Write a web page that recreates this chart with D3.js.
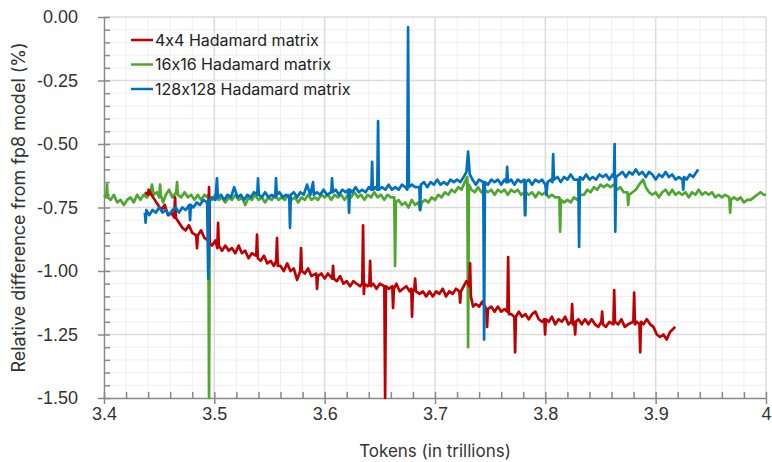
<!DOCTYPE html>
<html>
<head>
<meta charset="utf-8">
<script src="https://cdn.jsdelivr.net/npm/d3@7"></script>
<style>
  body { margin: 0; background: #fff; }
  svg { font-family: Inter, "Noto Sans", sans-serif; font-feature-settings: "calt" 0; }
</style>
</head>
<body>
<script>
// series data: [tokens (trillions), relative difference (%)]
const hadamard4 = [
  [3.437,-0.69],[3.440,-0.70],[3.4405,-0.68],[3.443,-0.70],[3.446,-0.72],[3.449,-0.74],[3.452,-0.76],[3.455,-0.74],
  [3.458,-0.78],[3.461,-0.77],[3.4637,-0.79],[3.4644,-0.71],[3.4651,-0.79],[3.468,-0.81],[3.471,-0.83],[3.474,-0.84],
  [3.477,-0.82],[3.480,-0.85],[3.4836,-0.86],[3.4843,-0.91],[3.4850,-0.86],[3.488,-0.84],[3.491,-0.87],[3.4945,-0.88],
  [3.4952,-0.67],[3.4959,-0.89],[3.498,-0.90],[3.501,-0.88],[3.5027,-0.91],[3.5034,-0.81],[3.5041,-0.90],[3.507,-0.92],
  [3.510,-0.90],[3.513,-0.92],[3.516,-0.91],[3.519,-0.93],[3.522,-0.90],[3.525,-0.93],[3.528,-0.92],[3.531,-0.95],
  [3.534,-0.93],[3.5380,-0.94],[3.5387,-0.857],[3.5394,-0.95],[3.542,-0.96],[3.545,-0.94],[3.548,-0.97],[3.551,-0.96],
  [3.554,-0.98],[3.5561,-0.96],[3.5568,-0.87],[3.5575,-0.98],[3.560,-0.98],[3.563,-1.00],[3.566,-0.97],[3.569,-1.00],
  [3.572,-0.99],[3.575,-1.035],[3.5779,-1.00],[3.5786,-0.91],[3.5793,-1.00],[3.582,-1.01],[3.585,-0.99],[3.588,-1.02],
  [3.5924,-1.01],[3.5931,-1.07],[3.5938,-1.02],[3.597,-1.01],[3.600,-1.03],[3.603,-1.01],[3.6069,-1.03],[3.6076,-0.98],
  [3.6083,-1.03],[3.611,-1.04],[3.614,-1.02],[3.617,-1.05],[3.620,-1.04],[3.623,-1.06],[3.626,-1.04],[3.629,-1.05],
  [3.632,-1.06],[3.6341,-1.05],[3.6348,-0.82],[3.6355,-1.09],[3.6362,-1.05],[3.639,-1.06],[3.6405,-1.05],[3.6412,-0.96],
  [3.6419,-1.06],[3.644,-1.05],[3.647,-1.07],[3.650,-1.05],[3.6541,-1.06],[3.6548,-1.50],[3.6555,-1.06],[3.658,-1.07],
  [3.6613,-1.06],[3.6620,-1.145],[3.6627,-1.07],[3.665,-1.05],[3.668,-1.08],[3.671,-1.07],[3.674,-1.06],[3.677,-1.08],
  [3.6785,-1.07],[3.6792,-1.18],[3.6799,-1.08],[3.6813,-1.07],[3.6820,-1.03],[3.6827,-1.08],[3.686,-1.09],[3.689,-1.08],
  [3.692,-1.10],[3.695,-1.08],[3.698,-1.10],[3.701,-1.08],[3.704,-1.09],[3.707,-1.07],[3.710,-1.10],[3.713,-1.08],
  [3.716,-1.09],[3.719,-1.07],[3.7221,-1.08],[3.7228,-1.125],[3.7235,-1.08],[3.726,-1.06],[3.7285,-1.04],[3.7311,-1.06],
  [3.7318,-0.97],[3.7325,-1.10],[3.7345,-1.14],[3.737,-1.13],[3.740,-1.14],[3.743,-1.12],[3.7465,-1.15],[3.7472,-1.22],
  [3.7479,-1.15],[3.751,-1.14],[3.754,-1.16],[3.757,-1.14],[3.760,-1.16],[3.763,-1.15],[3.7656,-1.16],[3.7663,-0.945],
  [3.7670,-1.17],[3.769,-1.17],[3.7719,-1.18],[3.7726,-1.32],[3.7733,-1.18],[3.776,-1.16],[3.779,-1.18],[3.782,-1.17],
  [3.785,-1.19],[3.788,-1.17],[3.791,-1.16],[3.794,-1.19],[3.797,-1.20],[3.7991,-1.19],[3.7998,-1.25],[3.8005,-1.19],
  [3.803,-1.20],[3.806,-1.18],[3.809,-1.21],[3.812,-1.19],[3.815,-1.20],[3.818,-1.18],[3.821,-1.21],[3.8236,-1.20],
  [3.8243,-1.13],[3.8250,-1.21],[3.8263,-1.20],[3.8270,-1.25],[3.8277,-1.20],[3.830,-1.19],[3.833,-1.21],[3.836,-1.19],
  [3.839,-1.21],[3.842,-1.19],[3.845,-1.21],[3.848,-1.22],[3.8508,-1.20],[3.8515,-1.16],[3.8522,-1.21],[3.855,-1.22],
  [3.858,-1.20],[3.8617,-1.21],[3.8624,-1.075],[3.8631,-1.20],[3.866,-1.21],[3.869,-1.19],[3.872,-1.22],[3.875,-1.21],
  [3.8798,-1.20],[3.8805,-1.085],[3.8812,-1.21],[3.883,-1.20],[3.8853,-1.21],[3.8860,-1.32],[3.8867,-1.20],[3.889,-1.21],
  [3.892,-1.19],[3.895,-1.21],[3.898,-1.22],[3.901,-1.25],[3.904,-1.26],[3.907,-1.25],[3.910,-1.27],[3.913,-1.24],
  [3.9177,-1.22]
];

const hadamard16 = [
  [3.400,-0.70],[3.4020,-0.71],[3.4027,-0.66],[3.4034,-0.71],[3.406,-0.72],[3.409,-0.70],[3.412,-0.73],[3.415,-0.72],
  [3.418,-0.74],[3.421,-0.72],[3.424,-0.71],[3.427,-0.73],[3.430,-0.70],[3.433,-0.72],[3.436,-0.70],[3.439,-0.71],
  [3.442,-0.69],[3.4435,-0.66],[3.445,-0.70],[3.448,-0.69],[3.4501,-0.71],[3.4508,-0.66],[3.4515,-0.70],[3.4535,-0.73],
  [3.456,-0.70],[3.459,-0.68],[3.462,-0.71],[3.4655,-0.69],[3.4662,-0.65],[3.4669,-0.70],[3.470,-0.71],[3.473,-0.69],
  [3.476,-0.71],[3.479,-0.70],[3.482,-0.72],[3.485,-0.70],[3.488,-0.72],[3.491,-0.70],[3.4935,-0.71],[3.4945,-0.70],
  [3.4952,-1.50],[3.4959,-0.71],[3.498,-0.72],[3.501,-0.70],[3.504,-0.72],[3.507,-0.71],[3.510,-0.73],[3.513,-0.71],
  [3.516,-0.72],[3.519,-0.70],[3.522,-0.72],[3.525,-0.71],[3.528,-0.74],[3.531,-0.71],[3.534,-0.72],[3.537,-0.70],
  [3.540,-0.72],[3.543,-0.71],[3.546,-0.73],[3.549,-0.71],[3.552,-0.72],[3.555,-0.70],[3.558,-0.72],[3.561,-0.71],
  [3.564,-0.72],[3.567,-0.70],[3.570,-0.72],[3.573,-0.71],[3.576,-0.73],[3.579,-0.71],[3.582,-0.72],[3.585,-0.70],
  [3.588,-0.72],[3.591,-0.71],[3.594,-0.72],[3.597,-0.70],[3.600,-0.71],[3.603,-0.70],[3.606,-0.72],[3.609,-0.70],
  [3.612,-0.71],[3.615,-0.70],[3.618,-0.72],[3.621,-0.70],[3.624,-0.71],[3.627,-0.69],[3.630,-0.71],[3.633,-0.70],
  [3.636,-0.72],[3.639,-0.70],[3.642,-0.71],[3.645,-0.69],[3.648,-0.71],[3.651,-0.70],[3.654,-0.72],[3.657,-0.70],
  [3.660,-0.71],[3.6631,-0.71],[3.6638,-0.98],[3.6645,-0.73],[3.667,-0.72],[3.670,-0.74],[3.673,-0.73],[3.676,-0.75],
  [3.679,-0.72],[3.682,-0.74],[3.685,-0.73],[3.6865,-0.76],[3.688,-0.73],[3.691,-0.72],[3.694,-0.73],[3.697,-0.71],
  [3.700,-0.72],[3.703,-0.70],[3.706,-0.71],[3.709,-0.69],[3.712,-0.70],[3.715,-0.68],[3.718,-0.69],[3.721,-0.67],
  [3.724,-0.68],[3.727,-0.65],[3.7293,-0.63],[3.7300,-1.30],[3.7307,-0.66],[3.733,-0.68],[3.736,-0.69],[3.739,-0.67],
  [3.742,-0.69],[3.745,-0.68],[3.748,-0.69],[3.751,-0.68],[3.754,-0.70],[3.757,-0.68],[3.760,-0.69],[3.763,-0.68],
  [3.766,-0.70],[3.769,-0.68],[3.772,-0.69],[3.775,-0.68],[3.778,-0.70],[3.781,-0.69],[3.7817,-0.78],[3.7824,-0.69],
  [3.785,-0.70],[3.788,-0.69],[3.791,-0.71],[3.794,-0.69],[3.797,-0.70],[3.800,-0.69],[3.803,-0.71],[3.806,-0.70],
  [3.809,-0.71],[3.8127,-0.71],[3.8134,-0.845],[3.8141,-0.72],[3.817,-0.73],[3.820,-0.72],[3.823,-0.73],[3.826,-0.71],
  [3.829,-0.72],[3.832,-0.70],[3.835,-0.70],[3.838,-0.68],[3.841,-0.69],[3.844,-0.67],[3.847,-0.68],[3.850,-0.66],
  [3.853,-0.67],[3.856,-0.66],[3.859,-0.67],[3.862,-0.66],[3.865,-0.68],[3.868,-0.67],[3.871,-0.69],[3.8744,-0.69],
  [3.8751,-0.74],[3.8758,-0.70],[3.879,-0.69],[3.882,-0.68],[3.885,-0.66],[3.8887,-0.64],[3.891,-0.67],[3.894,-0.69],
  [3.897,-0.70],[3.900,-0.69],[3.903,-0.71],[3.906,-0.69],[3.909,-0.68],[3.912,-0.70],[3.915,-0.68],[3.918,-0.70],
  [3.921,-0.69],[3.924,-0.70],[3.927,-0.69],[3.930,-0.71],[3.933,-0.69],[3.936,-0.70],[3.939,-0.68],[3.942,-0.70],
  [3.945,-0.69],[3.948,-0.70],[3.951,-0.69],[3.954,-0.71],[3.957,-0.70],[3.960,-0.71],[3.963,-0.70],[3.9668,-0.71],
  [3.9675,-0.77],[3.9682,-0.72],[3.971,-0.71],[3.974,-0.72],[3.977,-0.71],[3.980,-0.73],[3.983,-0.72],[3.986,-0.72],
  [3.989,-0.71],[3.992,-0.70],[3.995,-0.69],[3.998,-0.70],[4.000,-0.70]
];

const hadamard128 = [
  [3.437,-0.77],[3.4377,-0.81],[3.4384,-0.76],[3.441,-0.78],[3.444,-0.76],[3.447,-0.77],[3.450,-0.75],[3.453,-0.77],
  [3.456,-0.76],[3.459,-0.78],[3.462,-0.76],[3.465,-0.75],[3.468,-0.77],[3.471,-0.75],[3.474,-0.76],[3.4773,-0.74],
  [3.4780,-0.80],[3.4787,-0.74],[3.481,-0.75],[3.484,-0.73],[3.487,-0.74],[3.490,-0.72],[3.4935,-0.73],[3.4945,-1.03],
  [3.4955,-0.72],[3.498,-0.71],[3.501,-0.72],[3.5024,-0.635],[3.5031,-0.71],[3.506,-0.70],[3.509,-0.72],[3.512,-0.70],
  [3.515,-0.71],[3.518,-0.67],[3.521,-0.71],[3.524,-0.70],[3.527,-0.72],[3.530,-0.70],[3.533,-0.71],[3.536,-0.69],
  [3.5389,-0.70],[3.5396,-0.635],[3.5403,-0.70],[3.543,-0.71],[3.546,-0.69],[3.549,-0.71],[3.552,-0.70],[3.5552,-0.71],
  [3.5559,-0.635],[3.5566,-0.70],[3.559,-0.69],[3.562,-0.71],[3.565,-0.70],[3.5679,-0.71],[3.5686,-0.83],[3.5693,-0.70],
  [3.572,-0.69],[3.575,-0.71],[3.578,-0.69],[3.581,-0.70],[3.584,-0.66],[3.587,-0.70],[3.5895,-0.65],[3.5902,-0.70],
  [3.593,-0.69],[3.596,-0.70],[3.599,-0.68],[3.602,-0.70],[3.606,-0.69],[3.6067,-0.635],[3.6074,-0.69],[3.610,-0.68],
  [3.613,-0.70],[3.616,-0.68],[3.619,-0.69],[3.6214,-0.68],[3.6221,-0.77],[3.6228,-0.68],[3.625,-0.69],[3.628,-0.67],
  [3.631,-0.69],[3.634,-0.68],[3.637,-0.69],[3.640,-0.67],[3.6423,-0.68],[3.6430,-0.57],[3.6437,-0.68],[3.646,-0.67],
  [3.6477,-0.68],[3.6484,-0.41],[3.6491,-0.68],[3.652,-0.67],[3.655,-0.68],[3.658,-0.66],[3.661,-0.68],[3.664,-0.67],
  [3.667,-0.68],[3.670,-0.66],[3.673,-0.67],[3.6749,-0.68],[3.6756,-0.04],[3.6763,-0.67],[3.679,-0.66],[3.682,-0.67],
  [3.6858,-0.67],[3.6865,-0.76],[3.6872,-0.66],[3.690,-0.65],[3.693,-0.67],[3.696,-0.65],[3.699,-0.66],[3.702,-0.64],
  [3.705,-0.66],[3.708,-0.65],[3.711,-0.66],[3.714,-0.64],[3.717,-0.65],[3.720,-0.64],[3.723,-0.65],[3.726,-0.63],
  [3.7285,-0.61],[3.7300,-0.53],[3.7315,-0.62],[3.734,-0.64],[3.737,-0.66],[3.740,-0.64],[3.7438,-0.65],[3.7445,-1.27],
  [3.7452,-0.65],[3.748,-0.66],[3.751,-0.64],[3.754,-0.65],[3.757,-0.64],[3.760,-0.66],[3.763,-0.64],[3.7647,-0.65],
  [3.7654,-0.59],[3.7661,-0.65],[3.769,-0.64],[3.772,-0.66],[3.775,-0.64],[3.778,-0.65],[3.781,-0.64],[3.7817,-0.78],
  [3.7824,-0.65],[3.785,-0.64],[3.788,-0.66],[3.791,-0.64],[3.794,-0.65],[3.797,-0.64],[3.800,-0.66],[3.801,-0.70],
  [3.802,-0.65],[3.805,-0.64],[3.8064,-0.65],[3.8071,-0.54],[3.8078,-0.64],[3.811,-0.63],[3.814,-0.65],[3.817,-0.63],
  [3.820,-0.64],[3.823,-0.62],[3.826,-0.64],[3.8299,-0.64],[3.8306,-0.905],[3.8313,-0.63],[3.834,-0.64],[3.837,-0.62],
  [3.840,-0.64],[3.843,-0.63],[3.846,-0.64],[3.849,-0.62],[3.852,-0.63],[3.855,-0.62],[3.858,-0.64],[3.861,-0.62],
  [3.8622,-0.63],[3.8628,-0.50],[3.8634,-0.845],[3.8641,-0.63],[3.867,-0.62],[3.870,-0.61],[3.873,-0.63],[3.876,-0.61],
  [3.879,-0.62],[3.882,-0.60],[3.885,-0.62],[3.888,-0.61],[3.891,-0.63],[3.894,-0.61],[3.897,-0.62],[3.900,-0.64],
  [3.903,-0.62],[3.906,-0.63],[3.909,-0.61],[3.912,-0.63],[3.915,-0.62],[3.918,-0.64],[3.921,-0.63],[3.9243,-0.64],
  [3.9250,-0.68],[3.9257,-0.63],[3.928,-0.64],[3.931,-0.62],[3.934,-0.63],[3.9385,-0.60]
];

const seriesNames = ["4x4 Hadamard matrix", "16x16 Hadamard matrix", "128x128 Hadamard matrix"];
const seriesColors = ["#c00000", "#4ea72e", "#0070c0"];
const xTicks = [3.4, 3.5, 3.6, 3.7, 3.8, 3.9, 4.0];
const yTicks = [0, -0.25, -0.5, -0.75, -1.0, -1.25, -1.5];

const W = 772, H = 462;
const margin = { top: 17, right: 6, bottom: 64, left: 104 };
const width = W - margin.left - margin.right;
const height = H - margin.top - margin.bottom;

const svg = d3.select('body').append('svg')
    .attr('width', W)
    .attr('height', H);

const g = svg.append('g')
    .attr('transform', `translate(${margin.left}, ${margin.top})`);

const x = d3.scaleLinear().domain([3.4, 4.0]).range([0, width]);
const y = d3.scaleLinear().domain([-1.5, 0]).range([height, 0]);

// minor grid
const xMinor = d3.range(3.42, 4.0, 0.02).filter(v => Math.abs(v * 10 - Math.round(v * 10)) > 1e-6);
const yMinor = d3.range(-1.45, 0, 0.05).filter(v => Math.abs(v * 4 - Math.round(v * 4)) > 1e-6);

g.append('g').selectAll('line').data(xMinor).enter().append('line')
    .attr('x1', d => x(d)).attr('x2', d => x(d))
    .attr('y1', 0).attr('y2', height)
    .style('stroke', '#efefef').style('stroke-width', 1);
g.append('g').selectAll('line').data(yMinor).enter().append('line')
    .attr('x1', 0).attr('x2', width)
    .attr('y1', d => y(d)).attr('y2', d => y(d))
    .style('stroke', '#efefef').style('stroke-width', 1);

// major grid
g.append('g').selectAll('line').data(xTicks.slice(1)).enter().append('line')
    .attr('x1', d => x(d)).attr('x2', d => x(d))
    .attr('y1', 0).attr('y2', height)
    .style('stroke', '#dcdcdc').style('stroke-width', 1.5);
g.append('g').selectAll('line').data(yTicks.slice(0, -1)).enter().append('line')
    .attr('x1', 0).attr('x2', width)
    .attr('y1', d => y(d)).attr('y2', d => y(d))
    .style('stroke', '#dcdcdc').style('stroke-width', 1.5);

// axes
const axisColor = '#8a8a8a';
const xAxis = g.append('g')
    .attr('transform', `translate(0, ${height})`)
    .call(d3.axisBottom(x).tickValues(xTicks).tickSize(6).tickSizeOuter(0).tickPadding(3)
        .tickFormat(d => d === 4 ? '4' : d3.format('.1f')(d)));
xAxis.selectAll('.tick line').attr('y1', -6);
g.append('g')
    .attr('transform', `translate(0, ${height})`)
    .call(d3.axisBottom(x).tickValues(xMinor).tickSize(-6).tickFormat(''))
    .call(a => a.select('.domain').remove());

const yAxis = g.append('g')
    .call(d3.axisLeft(y).tickValues(yTicks).tickSize(6).tickSizeOuter(0).tickPadding(20)
        .tickFormat(d => d3.format('.2f')(d).replace('\u2212', '-')));
yAxis.selectAll('.tick line').attr('x1', 6);
g.append('g')
    .call(d3.axisLeft(y).tickValues(yMinor).tickSize(-6).tickFormat(''))
    .call(a => a.select('.domain').remove());

g.selectAll('.domain, .tick line').style('stroke', axisColor).style('stroke-width', 1.5);
xAxis.selectAll('text').style('font-size', '18px').style('fill', '#333');
yAxis.selectAll('text').style('font-size', '18px').style('fill', '#333');

// axis titles
svg.append('text')
    .attr('x', margin.left + width / 2)
    .attr('y', 457)
    .attr('text-anchor', 'middle')
    .style('font-size', '17px').style('fill', '#333')
    .text('Tokens (in trillions)');
svg.append('text')
    .attr('transform', `translate(25, ${margin.top + height / 2}) rotate(-90)`)
    .attr('text-anchor', 'middle')
    .style('font-size', '18px').style('fill', '#333')
    .text('Relative difference from fp8 model (%)');

// lines (green under red under blue)
const line = d3.line().x(d => x(d[0])).y(d => y(d[1]));
const plot = g.append('g');
[[hadamard16, 1], [hadamard4, 0], [hadamard128, 2]].forEach(([data, idx]) => {
    plot.append('path')
        .datum(data)
        .attr('d', line)
        .style('fill', 'none')
        .style('stroke', seriesColors[idx])
        .style('stroke-width', 2.7)
        .style('stroke-linejoin', 'round');
});

// legend
const legend = svg.append('g').attr('transform', 'translate(131, 40)');
seriesNames.forEach((name, i) => {
    const row = legend.append('g').attr('transform', `translate(0, ${i * 24.5})`);
    row.append('line')
        .attr('x1', 0).attr('x2', 22).attr('y1', 0).attr('y2', 0)
        .style('stroke', seriesColors[i]).style('stroke-width', 2.5);
    row.append('text')
        .attr('x', 24).attr('y', 0).attr('dy', '0.35em')
        .style('font-size', '16px').style('fill', '#222')
        .text(name);
});
</script>
</body>
</html>
